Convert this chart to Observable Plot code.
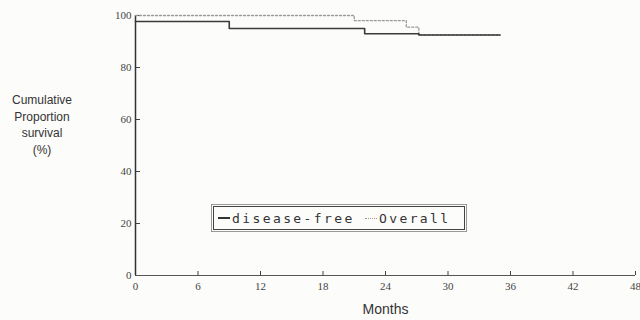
<!DOCTYPE html>
<html>
<head>
<meta charset="utf-8">
<script src="https://cdn.jsdelivr.net/npm/d3@7"></script>
<script src="https://cdn.jsdelivr.net/npm/@observablehq/plot@0.6"></script>
<style>
  html, body { margin: 0; padding: 0; background: #fcfcfa; }
  #wrap { position: relative; width: 640px; height: 320px; overflow: hidden; }
  #ylab { position: absolute; left: 0; top: 92px; width: 84px; text-align: center;
          font-family: "Liberation Sans", Arial, sans-serif; font-size: 12px; line-height: 16.5px; color: #333; }
  #legend { position: absolute; left: 213px; top: 206px; width: 252px; height: 24px; box-sizing: border-box;
            border: 1.6px solid #444; outline: 0.8px solid #999; outline-offset: 1px;
            font-family: "DejaVu Sans Mono", "Liberation Mono", monospace; font-size: 13px; letter-spacing: 2.4px; color: #333;
            display: flex; align-items: center; padding-left: 4px; white-space: pre; }
  .sw { display: inline-block; width: 12px; height: 0; vertical-align: middle; margin-right: 2px; }
</style>
</head>
<body>
<div id="wrap">
  <div id="chart"></div>
  <div id="ylab">Cumulative<br>Proportion<br>survival<br>(%)</div>
  <div id="legend"><span class="sw" style="border-top:2px solid #333"></span>disease-free <span class="sw" style="border-top:1.5px dotted #999"></span>Overall</div>
</div>
<script>
const dfMonths = [0, 9, 22, 27.2, 35];
const dfValues = [97.7, 95, 93, 92.5, 92.5];
const ovMonths = [0, 21, 26, 27.2, 35];
const ovValues = [100, 98, 95.5, 92.5, 92.5];
const xTicks = [0, 6, 12, 18, 24, 30, 36, 42, 48];
const yTicks = [0, 20, 40, 60, 80, 100];

const df = dfMonths.map((m, i) => ({month: m, value: dfValues[i]}));
const ov = ovMonths.map((m, i) => ({month: m, value: ovValues[i]}));

const plot = Plot.plot({
  width: 640,
  height: 320,
  marginLeft: 135,
  marginRight: 5,
  marginTop: 15,
  marginBottom: 45,
  style: {background: "transparent", fontFamily: "'Liberation Serif', 'Times New Roman', serif", fontSize: "11px", color: "#444"},
  x: {domain: [0, 48], ticks: xTicks, tickSize: -4, tickPadding: 11, label: null},
  y: {domain: [0, 100], ticks: yTicks, tickSize: -5, tickPadding: 9, label: null},
  marks: [
    Plot.ruleX([0], {stroke: "#333", strokeWidth: 1.5}),
    Plot.ruleY([0], {stroke: "#555", strokeWidth: 1.2}),
    Plot.line(ov, {x: "month", y: "value", curve: "step-after", stroke: "#9a9a9a", strokeWidth: 1.3, strokeDasharray: "2,2"}),
    Plot.line(df, {x: "month", y: "value", curve: "step-after", stroke: "#3a3a3a", strokeWidth: 1.6}),
    Plot.text(["Months"], {frameAnchor: "bottom", dy: 38, text: d => d, fontFamily: "'Liberation Sans', Arial, sans-serif", fontSize: 14, fill: "#333"})
  ]
});
document.getElementById("chart").appendChild(plot);
</script>
</body>
</html>
